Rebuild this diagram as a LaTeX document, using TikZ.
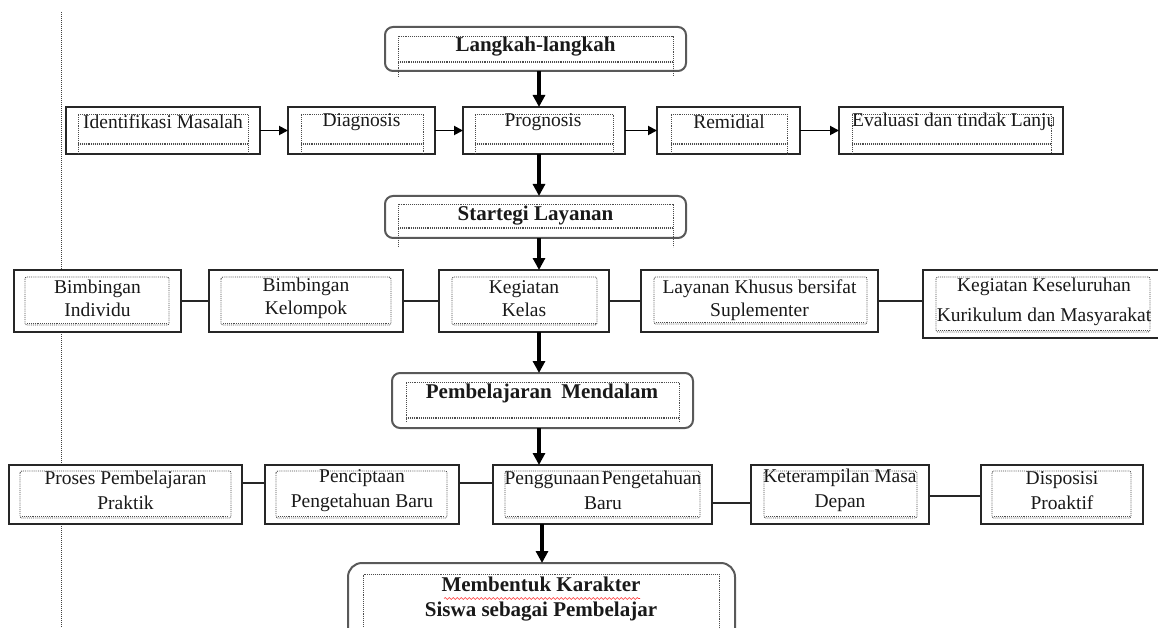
\documentclass[tikz,border=0pt]{standalone}
\usepackage{fontspec}
\setmainfont{Liberation Serif}
\usetikzlibrary{arrows.meta,fit,decorations.pathmorphing}
\newcommand{\mkbox}[6][box]{\node[#1, fit={(#3,#4) (#5,#6)}] (#2) {};}
% open-bottom inner dotted frame: x1, ytop, x2, ybottom, yext
\newcommand{\dotU}[5]{%
  \draw[dotl] (#1,#5) -- (#1,#2) -- (#3,#2) -- (#3,#5);
  \draw[dotl] (#1,#4) -- (#3,#4);
  \draw[dotl] (#1,{#4+1.5}) -- (#3,{#4+1.5});}
% closed inner dotted frame
\newcommand{\dotR}[4]{%
  \draw[dotl,rounded corners=2pt] (#1,#2) rectangle (#3,#4);
  \draw[dotl] ({#1+2},{#4-1.5}) -- ({#3-2},{#4-1.5});}
\begin{document}
\begin{tikzpicture}[x=1pt,y=-1pt,
  box/.style={draw=black!85,line width=2pt,fill=white,inner sep=0pt,outer sep=0pt},
  rbox/.style={box,draw=black!65,rounded corners=8pt},
  dotl/.style={draw=black!70,densely dotted,line width=0.9pt},
  txt/.style={font=\fontsize{19.5}{24}\selectfont,align=center,inner sep=0pt,text=black!90},
  txtb/.style={txt,font=\fontsize{19.5}{23}\selectfont},
  txtc/.style={txt,font=\fontsize{19.5}{25}\selectfont},
  txtk/.style={txt,font=\fontsize{19.5}{30}\selectfont},
  btxt/.style={txt,font=\fontsize{21}{25}\selectfont\bfseries},
  marrow/.style={line width=3.6pt,-{Triangle[length=12pt,width=12pt]}},
  sarrow/.style={line width=1.9pt,-{Triangle[length=9pt,width=9pt]}},
  link/.style={line width=1.9pt,draw=black!85},
]
\useasboundingbox (0,0) rectangle (1158,628);
\clip (0,0) rectangle (1158,628);
\fill[white] (0,0) rectangle (1158,628);

% vertical dotted margin line
\draw[densely dotted,black!75,line width=1pt] (61,12) -- (61,628);

% ---- title boxes
\mkbox[rbox]{lang}{385}{27}{686}{71}
\dotU{398}{36}{673}{61}{77}
\node[btxt] (tlang) at (535.5,47) {Langkah-langkah};

\mkbox[rbox]{str}{385}{196}{686}{238}
\dotU{398}{204}{673}{227}{247}
\node[btxt] (tstr) at (535.5,216) {Startegi Layanan};

\mkbox[rbox]{pem}{392}{373}{693}{428}
\dotU{406}{382}{679}{417}{422}
\node[btxt] (tpem) at (542,393) {Pembelajaran\hspace{0.45em}Mendalam};

\mkbox[rbox,rounded corners=14pt]{mem}{348}{563}{735}{690}
\draw[dotl] (363,640) -- (363,574) -- (719,574) -- (719,640);
\node[btxt] (tmem) at (541,599) {Membentuk Karakter\\Siswa sebagai Pembelajar};
\draw[red!80,line width=0.6pt,decorate,decoration={snake,amplitude=0.9pt,segment length=4pt}] (444,598.5) -- (640,598.5);

% ---- row 1
\mkbox{idf}{66}{107}{260}{154}
\dotU{78}{114}{248}{143}{154}
\node[txt] (tidf) at (163,122) {Identifikasi Masalah};

\mkbox{dia}{288}{107}{435}{154}
\dotU{301}{114}{423}{143}{154}
\node[txt] (tdia) at (361.5,122) {Diagnosis};

\mkbox{prog}{463}{107}{625}{154}
\dotU{475}{114}{613}{143}{154}
\node[txt] (tprog) at (543,122) {Prognosis};

\mkbox{rem}{657}{107}{800}{154}
\dotU{671}{114}{787}{143}{154}
\node[txt] (trem) at (729,122) {Remidial};

\mkbox{eva}{839}{107}{1063}{154}
\dotU{852}{114}{1051}{143}{154}
\begin{scope}
\clip (846,108) rectangle (1053,150);
\node[txt,anchor=west] (teva) at (852,122) {Evaluasi dan tindak Lanjut};
\end{scope}

\draw[sarrow] (idf.east) -- (dia.west);
\draw[sarrow] (dia.east) -- (prog.west);
\draw[sarrow] (prog.east) -- (rem.west);
\draw[sarrow] (rem.east) -- (eva.west);

% ---- row 2
\mkbox{bi}{14}{270}{181}{332}
\dotR{25}{277}{169}{325}
\node[txtb] (tbi) at (97.5,298.5) {Bimbingan\\Individu};

\mkbox{bk}{209}{270}{403}{332}
\dotR{221}{277}{391}{325}
\node[txtb] (tbk) at (306,298.5) {Bimbingan\\Kelompok};

\mkbox{kk}{439}{270}{609}{332}
\dotR{452}{277}{597}{325}
\node[txtb] (tkk) at (524,298.5) {Kegiatan\\Kelas};

\mkbox{lk}{641}{270}{878}{332}
\dotR{654}{277}{867}{324}
\node[txtb] (tlk) at (759.5,300) {Layanan Khusus bersifat\\Suplementer};

\mkbox{kes}{923}{270}{1175}{338}
\dotR{936}{277}{1150}{332}
\begin{scope}
\clip (930,272) rectangle (1152,336);
\node[txtk] (tkes) at (1044,302) {Kegiatan Keseluruhan\\Kurikulum dan Masyarakat};
\end{scope}

\draw[link] (bi.east) -- (bk.west);
\draw[link] (bk.east) -- (kk.west);
\draw[link] (kk.east) -- (lk.west);
\draw[link] (lk.east) -- (kes.west |- lk.east);

% ---- row 3
\mkbox{pp}{9}{465}{242}{524}
\dotR{20}{471}{231}{518}
\node[txtc] (tpp) at (125.5,490.5) {Proses Pembelajaran\\Praktik};

\mkbox{pc}{265}{465}{459}{524}
\dotR{276}{471}{447}{518}
\node[txtc] (tpc) at (362,490.5) {Penciptaan\\Pengetahuan Baru};

\mkbox{pg}{493}{465}{712}{524}
\dotR{505}{471}{700}{518}
\node[txtc] (tpg) at (603,490.5) {Penggunaan\hspace{0.1em}Pengetahuan\\Baru};

\mkbox{kt}{751}{465}{929}{524}
\dotR{764}{471}{917}{518}
\node[txtc] (tkt) at (840,490.5) {Keterampilan Masa\\Depan};

\mkbox{dp}{981}{465}{1143}{524}
\dotR{992}{471}{1131}{518}
\node[txtc] (tdp) at (1062,490.5) {Disposisi\\Proaktif};

\draw[link] ([yshift=11.5pt]pp.east) -- ([yshift=11.5pt]pc.west);
\draw[link] ([yshift=11.5pt]pc.east) -- ([yshift=11.5pt]pg.west);
\draw[link] ([yshift=-8.5pt]pg.east) -- ([yshift=-8.5pt]kt.west);
\draw[link] ([yshift=-1.5pt]kt.east) -- ([yshift=-1.5pt]dp.west);

% ---- main vertical arrows
\coordinate (col) at (539,0);
\coordinate (colb) at (542,0);
\draw[marrow] (lang.south -| col) -- (prog.north -| col);
\draw[marrow] (prog.south -| col) -- (str.north -| col);
\draw[marrow] (str.south -| col) -- (kk.north -| col);
\draw[marrow] (kk.south -| col) -- (pem.north -| col);
\draw[marrow] (pem.south -| col) -- (pg.north -| col);
\draw[marrow] (pg.south -| colb) -- (mem.north -| colb);
\end{tikzpicture}
\end{document}
